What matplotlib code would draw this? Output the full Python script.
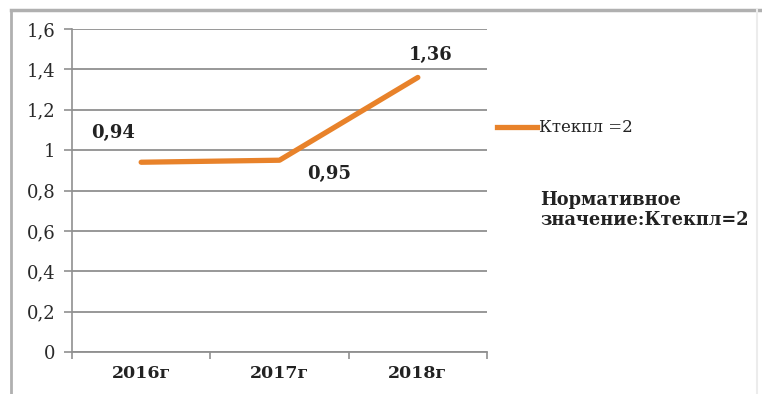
import matplotlib
matplotlib.use("Agg")
import matplotlib.pyplot as plt
from matplotlib.lines import Line2D

categories = ["2016г", "2017г", "2018г"]
values = [0.94, 0.95, 1.36]
value_labels = ["0,94", "0,95", "1,36"]
yticks = [0, 0.2, 0.4, 0.6, 0.8, 1.0, 1.2, 1.4, 1.6]
ytick_labels = ["0", "0,2", "0,4", "0,6", "0,8", "1", "1,2", "1,4", "1,6"]
legend_label = "Ктекпл =2"
note_text = "Нормативное\nзначение:Ктекпл=2"

W, H = 762, 394
fig = plt.figure(figsize=(W / 100, H / 100), dpi=100)
plt.rcParams['font.family'] = ['DejaVu Serif', 'Liberation Serif']

# outer frame
fig.add_artist(Line2D([11 / W, 11 / W], [0, 1 - 10 / H], transform=fig.transFigure, color="#b0b0b0", lw=2))
fig.add_artist(Line2D([11 / W, 1], [1 - 10 / H, 1 - 10 / H], transform=fig.transFigure, color="#b0b0b0", lw=2.5))
fig.add_artist(Line2D([757 / W, 757 / W], [0, 1 - 10 / H], transform=fig.transFigure, color="#ececec", lw=1.5))

left, right, top, bottom = 72, 487, 29, 352
ax = fig.add_axes([left / W, 1 - bottom / H, (right - left) / W, (bottom - top) / H])

x = list(range(len(categories)))
ax.plot(x, values, color="#e8822a", lw=3.8, solid_capstyle="round", solid_joinstyle="round", zorder=3)

ax.set_xlim(-0.5, len(categories) - 0.5)
ax.set_ylim(0, 1.6)
ax.set_yticks(yticks)
ax.set_yticklabels(ytick_labels, fontsize=13, color="#2a2a2a")
ax.set_xticks(x)
ax.set_xticklabels(categories, fontsize=12.5, fontweight="bold", color="#222222")
ax.set_xticks([-0.5, 0.5, 1.5, 2.5], minor=True)
ax.tick_params(axis="x", which="major", length=0, pad=9)
ax.tick_params(axis="x", which="minor", length=5, color="#909090", width=1.2)
ax.tick_params(axis="y", length=6, color="#909090", width=1.2, pad=6)

ax.grid(axis="y", color="#909090", lw=1.3)
ax.set_axisbelow(True)
for s in ["top", "right"]:
    ax.spines[s].set_visible(False)
ax.spines["left"].set_color("#909090")
ax.spines["left"].set_linewidth(1.2)
ax.spines["bottom"].set_color("#909090")
ax.spines["bottom"].set_linewidth(1.3)

offsets = [(-0.2, 0.145), (0.36, -0.07), (0.09, 0.11)]
for xi, v, lab, (dx, dy) in zip(x, values, value_labels, offsets):
    ax.text(xi + dx, v + dy, lab, ha="center", va="center", fontsize=13, fontweight="bold", color="#222222")

# legend
fig.add_artist(Line2D([497 / W, 537 / W], [1 - 127 / H, 1 - 127 / H], transform=fig.transFigure,
                      color="#e8822a", lw=3.8))
fig.text(539 / W, 1 - 127 / H, legend_label, fontsize=12, va="center", ha="left", color="#222222")
fig.text(540 / W, 1 - 210 / H, note_text, fontsize=12.8, fontweight="bold", va="center", ha="left",
         color="#222222", linespacing=1.1)

fig.savefig("out.png", dpi=100)
